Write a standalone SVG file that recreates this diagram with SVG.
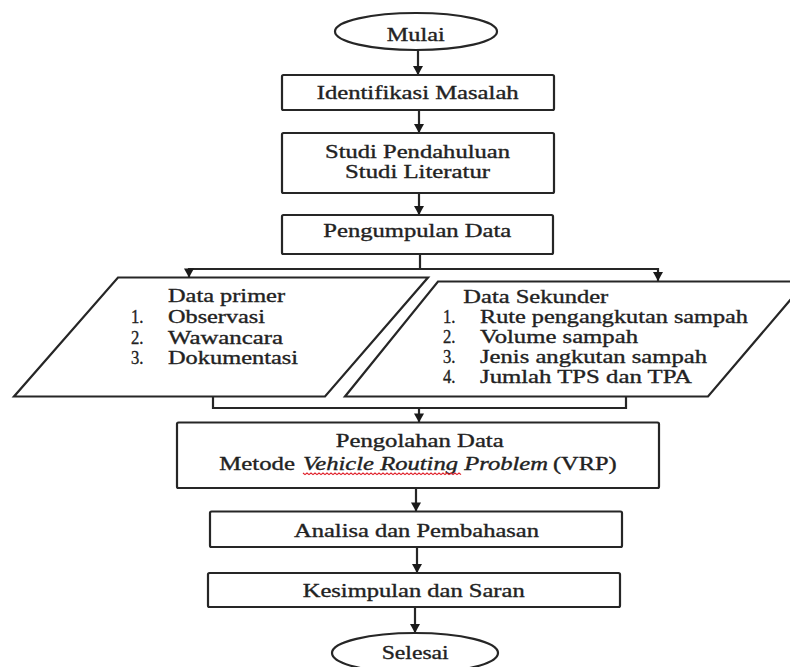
<svg xmlns="http://www.w3.org/2000/svg" width="790" height="667" viewBox="0 0 790 667">
<style>
  .shape { fill: #ffffff; stroke: #262626; stroke-width: 2.2; }
  .line { fill: none; stroke: #262626; stroke-width: 2.2; }
  .t { font-family: "Liberation Serif", "Times New Roman", serif; font-size: 19px; fill: #222222; stroke: #222222; stroke-width: 0.35; }
  .it { font-style: italic; }
  .squiggle { fill: none; stroke: #e0202a; stroke-width: 1.2; }
</style>
<defs>
  <marker id="ah" markerUnits="userSpaceOnUse" markerWidth="12" markerHeight="12" viewBox="0 0 12 12" refX="6" refY="11" orient="0">
    <path d="M1,2 L11,2 L6,11 Z" fill="#1a1a1a"/>
  </marker>
</defs>
<rect width="790" height="667" fill="#ffffff"/>

<g id="connectors">
  <line class="line" x1="418" y1="50" x2="418" y2="75" marker-end="url(#ah)"/>
  <line class="line" x1="419" y1="110" x2="419" y2="133" marker-end="url(#ah)"/>
  <line class="line" x1="419" y1="193" x2="419" y2="215" marker-end="url(#ah)"/>
  <polyline class="line" points="420,254 420,269"/>
  <polyline class="line" points="189,269 658,269"/>
  <line class="line" x1="189" y1="268" x2="189" y2="277.5" marker-end="url(#ah)"/>
  <line class="line" x1="658" y1="268" x2="658" y2="281" marker-end="url(#ah)"/>
  <polyline class="line" points="213,396.5 213,408 626,408 626,396.5"/>
  <line class="line" x1="419" y1="407" x2="419" y2="422.5" marker-end="url(#ah)"/>
  <line class="line" x1="416" y1="488" x2="416" y2="511.5" marker-end="url(#ah)"/>
  <line class="line" x1="417" y1="547" x2="417" y2="573" marker-end="url(#ah)"/>
  <line class="line" x1="415" y1="607" x2="415" y2="633" marker-end="url(#ah)"/>
</g>

<g id="mulai">
  <ellipse class="shape" cx="416" cy="31.5" rx="81" ry="18.5"/>
  <text class="t" x="386.7" y="40.5" textLength="58" lengthAdjust="spacingAndGlyphs">Mulai</text>
</g>

<g id="identifikasi">
  <rect class="shape" x="282" y="75" width="272" height="35" rx="1.5"/>
  <text class="t" x="316.7" y="99" textLength="202" lengthAdjust="spacingAndGlyphs">Identifikasi Masalah</text>
</g>

<g id="studi">
  <rect class="shape" x="282" y="133" width="272" height="60" rx="1.5"/>
  <text class="t" x="325" y="158" textLength="185" lengthAdjust="spacingAndGlyphs">Studi Pendahuluan</text>
  <text class="t" x="345" y="178" textLength="145" lengthAdjust="spacingAndGlyphs">Studi Literatur</text>
</g>

<g id="pengumpulan">
  <rect class="shape" x="282" y="215" width="271" height="39" rx="1.5"/>
  <text class="t" x="323.3" y="236.5" textLength="188" lengthAdjust="spacingAndGlyphs">Pengumpulan Data</text>
</g>

<g id="data-primer">
  <polygon class="shape" points="118,277.5 428,277.5 325,396.5 14,396.5"/>
  <text class="t" x="168" y="302" textLength="117" lengthAdjust="spacingAndGlyphs">Data primer</text>
  <text class="t" x="131" y="323" textLength="12.5" lengthAdjust="spacingAndGlyphs">1.</text>
  <text class="t" x="168" y="323" textLength="97" lengthAdjust="spacingAndGlyphs">Observasi</text>
  <text class="t" x="131" y="343.5" textLength="12.5" lengthAdjust="spacingAndGlyphs">2.</text>
  <text class="t" x="168" y="343.5" textLength="115" lengthAdjust="spacingAndGlyphs">Wawancara</text>
  <text class="t" x="131" y="363.5" textLength="12.5" lengthAdjust="spacingAndGlyphs">3.</text>
  <text class="t" x="168" y="363.5" textLength="130" lengthAdjust="spacingAndGlyphs">Dokumentasi</text>
</g>

<g id="data-sekunder">
  <polygon class="shape" points="438,281.5 806,281.5 708,396.5 345,396.5"/>
  <text class="t" x="463.3" y="303" textLength="145" lengthAdjust="spacingAndGlyphs">Data Sekunder</text>
  <text class="t" x="443" y="323" textLength="12.5" lengthAdjust="spacingAndGlyphs">1.</text>
  <text class="t" x="480" y="323" textLength="268" lengthAdjust="spacingAndGlyphs">Rute pengangkutan sampah</text>
  <text class="t" x="443" y="343.3" textLength="12.5" lengthAdjust="spacingAndGlyphs">2.</text>
  <text class="t" x="480" y="343.3" textLength="158" lengthAdjust="spacingAndGlyphs">Volume sampah</text>
  <text class="t" x="443" y="363.3" textLength="12.5" lengthAdjust="spacingAndGlyphs">3.</text>
  <text class="t" x="480" y="363.3" textLength="227" lengthAdjust="spacingAndGlyphs">Jenis angkutan sampah</text>
  <text class="t" x="443" y="383.3" textLength="12.5" lengthAdjust="spacingAndGlyphs">4.</text>
  <text class="t" x="480" y="383.3" textLength="212" lengthAdjust="spacingAndGlyphs">Jumlah TPS dan TPA</text>
</g>

<g id="pengolahan">
  <rect class="shape" x="177" y="422.5" width="482" height="65.5" rx="1.5"/>
  <text class="t" x="335.7" y="447" textLength="168" lengthAdjust="spacingAndGlyphs">Pengolahan Data</text>
  <text class="t" x="219.3" y="470" textLength="75.7" lengthAdjust="spacingAndGlyphs">Metode</text>
  <text class="t it" x="303" y="470" textLength="245" lengthAdjust="spacingAndGlyphs">Vehicle Routing Problem</text>
  <text class="t" x="553" y="470" textLength="63.7" lengthAdjust="spacingAndGlyphs">(VRP)</text>
  <path class="squiggle" d="M303,473 l2,1.6 l2,-1.6 l2,1.6 l2,-1.6 l2,1.6 l2,-1.6 l2,1.6 l2,-1.6 l2,1.6 l2,-1.6 l2,1.6 l2,-1.6 l2,1.6 l2,-1.6 l2,1.6 l2,-1.6 l2,1.6 l2,-1.6 l2,1.6 l2,-1.6 l2,1.6 l2,-1.6 l2,1.6 l2,-1.6 l2,1.6 l2,-1.6 l2,1.6 l2,-1.6 l2,1.6 l2,-1.6 l2,1.6 l2,-1.6 l2,1.6 l2,-1.6 l2,1.6 l2,-1.6 l2,1.6 l2,-1.6 l2,1.6 l2,-1.6 l2,1.6 l2,-1.6 l2,1.6 l2,-1.6 l2,1.6 l2,-1.6 l2,1.6 l2,-1.6 l2,1.6 l2,-1.6 l2,1.6 l2,-1.6 l2,1.6 l2,-1.6 l2,1.6 l2,-1.6 l2,1.6 l2,-1.6 l2,1.6 l2,-1.6 l2,1.6 l2,-1.6 l2,1.6 l2,-1.6 l2,1.6 l2,-1.6 l2,1.6 l2,-1.6 l2,1.6 l2,-1.6 l2,1.6 l2,-1.6 l2,1.6 l2,-1.6 l2,1.6 l2,-1.6 l2,1.6 l2,-1.6 l2,1.6"/>
</g>

<g id="analisa">
  <rect class="shape" x="210" y="511.5" width="412" height="35.5" rx="1.5"/>
  <text class="t" x="294" y="536.5" textLength="245" lengthAdjust="spacingAndGlyphs">Analisa dan Pembahasan</text>
</g>

<g id="kesimpulan">
  <rect class="shape" x="208" y="573" width="412" height="34" rx="1.5"/>
  <text class="t" x="302.7" y="596.5" textLength="222" lengthAdjust="spacingAndGlyphs">Kesimpulan dan Saran</text>
</g>

<g id="selesai">
  <ellipse class="shape" cx="415" cy="653" rx="83" ry="20"/>
  <text class="t" x="381.7" y="658.5" textLength="67" lengthAdjust="spacingAndGlyphs">Selesai</text>
</g>
</svg>
